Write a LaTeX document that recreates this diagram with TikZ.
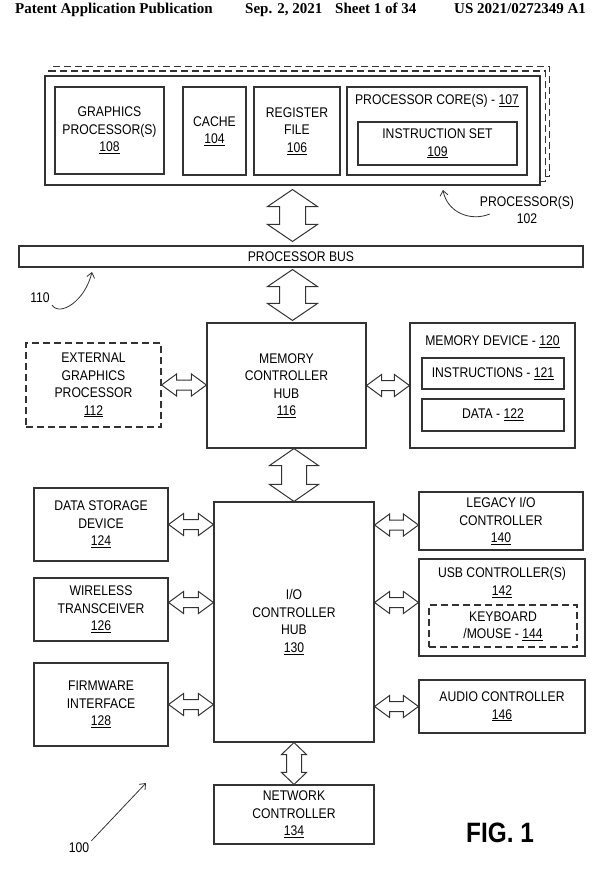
\documentclass[tikz,border=0pt]{standalone}
\usepackage{fontspec}
\setmainfont{Liberation Sans}[FakeStretch=0.87]
\newfontfamily\hdrfont{Liberation Serif}
\usepackage{tikz}
\usetikzlibrary{calc}
\usetikzlibrary{arrows.meta}
\usetikzlibrary{positioning}
\usetikzlibrary{backgrounds}
\def\refnum#1{\underline{#1}}
% hollow two-headed block arrows: [gap]{from}{to}{half shaft}{half head}{head length}
\newcommand\vbiarrow[6][0]{%
  \draw[biarrow] ($(#2)+(0,#1)$) -- ++(#5,#6) -- ++(-#5+#4,0) -- ($(#3)+(#4,-#6-#1)$)
    -- ++(#5-#4,0) -- ($(#3)+(0,-#1)$) -- ++(-#5,-#6) -- ++(#5-#4,0)
    -- ($(#2)+(-#4,#6+#1)$) -- ++(-#5+#4,0) -- cycle;}
\newcommand\hbiarrow[5]{%
  \draw[biarrow] (#1) -- ++(#5,-#4) -- ++(0,#4-#3) -- ($(#2)+(-#5,-#3)$)
    -- ++(0,-#4+#3) -- (#2) -- ++(-#5,#4) -- ++(0,-#4+#3)
    -- ($(#1)+(#5,#3)$) -- ++(0,#4-#3) -- cycle;}

\begin{document}
\begin{tikzpicture}[x=1pt,y=-1pt,
	every node/.style={font=\fontsize{14}{17.5}\selectfont, inner sep=0pt},
	box/.style={draw=black!80, line width=1.1pt, align=center, fill=white},
	dashbox/.style={box, dash pattern=on 7pt off 4pt},
	biarrow/.style={draw=black!80, line width=1pt, fill=white},
	note/.style={draw=black!80, line width=0.8pt, -{Straight Barb[length=5pt,width=8pt]}},
	hdr/.style={anchor=base west, font=\hdrfont\bfseries\fontsize{15}{18}\selectfont}]
	\useasboundingbox (0,0) rectangle (600,878);

	\node[hdr] (hdra) at (15,13) {Patent Application Publication};
	\node[hdr] (hdrb) at (245,13) {Sep. 2, 2021};
	\node[hdr] (hdrc) at (335,13) {Sheet 1 of 34};
	\node[hdr] (hdrd) at (454,13) {US 2021/0272349 A1};

	% processor package
	\node[box, minimum width=495, minimum height=109] (proc) at (292.5,130.5) {};
	\begin{scope}[on background layer]
		\draw[dashbox] ([xshift=9pt,yshift=9pt]proc.south west) rectangle ([xshift=9pt,yshift=9pt]proc.north east);
		\draw[dashbox] ([xshift=4.5pt,yshift=4.5pt]proc.south west) rectangle ([xshift=4.5pt,yshift=4.5pt]proc.north east);
	\end{scope}
	\node[box, minimum width=109, minimum height=87] (gfx) at (109.5,130.5) {GRAPHICS\\PROCESSOR(S)\\\refnum{108}};
	\node[box, minimum width=63, minimum height=88] (cache) at (214.5,131) {CACHE\\\refnum{104}};
	\node[box, minimum width=86, minimum height=88] (reg) at (297,131) {REGISTER\\FILE\\\refnum{106}};
	\node[box, minimum width=180, minimum height=88] (core) at (437,131) {};
	\node[below=8pt of core.north] (coretxt) {PROCESSOR CORE(S) - \refnum{107}};
	\node[box, minimum width=159, minimum height=43] (iset) at (437.5,143.5) {INSTRUCTION SET\\\refnum{109}};

	\node[box, minimum width=564, minimum height=21] (bus) at (301,256.5) {PROCESSOR BUS};

	% hubs and devices
	\node[box, minimum width=159, minimum height=125] (mch) at (286.5,385.5) {MEMORY\\CONTROLLER\\HUB\\\refnum{116}};
	\node[dashbox, minimum width=135, minimum height=84] (egp) at (93.5,385) {EXTERNAL\\GRAPHICS\\PROCESSOR\\\refnum{112}};
	\node[box, minimum width=165, minimum height=125] (mem) at (492.5,385.5) {};
	\node[below=13pt of mem.north] (memtxt) {MEMORY DEVICE - \refnum{120}};
	\node[box, minimum width=142, minimum height=31] (instr) at (493,373.5) {INSTRUCTIONS - \refnum{121}};
	\node[box, minimum width=142, minimum height=32] (data) at (493,415) {DATA - \refnum{122}};

	\node[box, minimum width=160, minimum height=240] (ich) at (294,622) {I/O\\CONTROLLER\\HUB\\\refnum{130}};
	\node[box, minimum width=134, minimum height=73] (dsd) at (101,524.5) {DATA STORAGE\\DEVICE\\\refnum{124}};
	\node[box, minimum width=134, minimum height=63] (wls) at (101,609.5) {WIRELESS\\TRANSCEIVER\\\refnum{126}};
	\node[box, minimum width=134, minimum height=83] (fwi) at (101,704.5) {FIRMWARE\\INTERFACE\\\refnum{128}};
	\node[box, minimum width=164, minimum height=58] (lio) at (501,521) {LEGACY I/O\\CONTROLLER\\\refnum{140}};
	\node[box, minimum width=166, minimum height=97] (usb) at (502,607.5) {};
	\node[below=9pt of usb.north, align=center] (usbtxt) {USB CONTROLLER(S)\\\refnum{142}};
	\node[dashbox, minimum width=148, minimum height=42] (kbm) at (503,626) {KEYBOARD\\/MOUSE - \refnum{144}};
	\node[box, minimum width=166, minimum height=53] (aud) at (502,706.5) {AUDIO CONTROLLER\\\refnum{146}};
	\node[box, minimum width=160, minimum height=59] (net) at (294,814.5) {NETWORK\\CONTROLLER\\\refnum{134}};

	% arrow ends
	\coordinate (pbus) at (proc.south |- bus.north);
	\coordinate (bus2) at (proc.south |- bus.south);
	\coordinate (mchn) at (proc.south |- mch.north);
	\coordinate (mchs) at (ich.north |- mch.south);
	\coordinate (wlsa) at ([yshift=7pt]wls.east);
	\coordinate (lioa) at ([yshift=-4pt]ich.east |- lio.west);

	\vbiarrow[4]{proc.south}{pbus}{13}{25}{17}
	\vbiarrow[2]{bus2}{mchn}{13}{25}{17}
	\vbiarrow{mchs}{ich.north}{12.5}{24.5}{17}
	\vbiarrow{ich.south}{net.north}{7.5}{12.5}{12}
	\hbiarrow{egp.east}{mch.west |- egp.east}{5}{11}{15}
	\hbiarrow{mch.east}{mem.west |- mch.east}{5}{11}{15}
	\hbiarrow{dsd.east}{ich.west |- dsd.east}{5}{11}{15}
	\hbiarrow{wlsa}{ich.west |- wlsa}{5}{11}{15}
	\hbiarrow{fwi.east}{ich.west |- fwi.east}{5}{11}{15}
	\hbiarrow{lioa}{lio.west |- lioa}{5}{11}{15}
	\hbiarrow{ich.east |- wlsa}{usb.west |- wlsa}{5}{11}{15}
	\hbiarrow{ich.east |- aud.west}{aud.west}{5}{11}{15}

	% reference labels
	\node[align=center] (l102) at (527,210) {PROCESSOR(S)\\102};
	\node (l110) at (40,298) {110};
	\node (l100) at (79,848) {100};
	\node[font=\bfseries\fontsize{28}{30}\selectfont] (fig) at (500,833) {FIG. 1};
	\coordinate (t102) at (443,190);
	\coordinate (t110) at (92,272);
	\coordinate (t100) at (146,783);
	\draw[note] ([shift={(10,4)}]l102.west) .. controls (470,222) and (447,212) .. (t102);
	\draw[note] ([shift={(2,7)}]l110.east) .. controls (60,317) and (85,301) .. (t110);
	\draw[note] ([shift={(2,-2)}]l100.north east) -- (t100);
\end{tikzpicture}
\end{document}
